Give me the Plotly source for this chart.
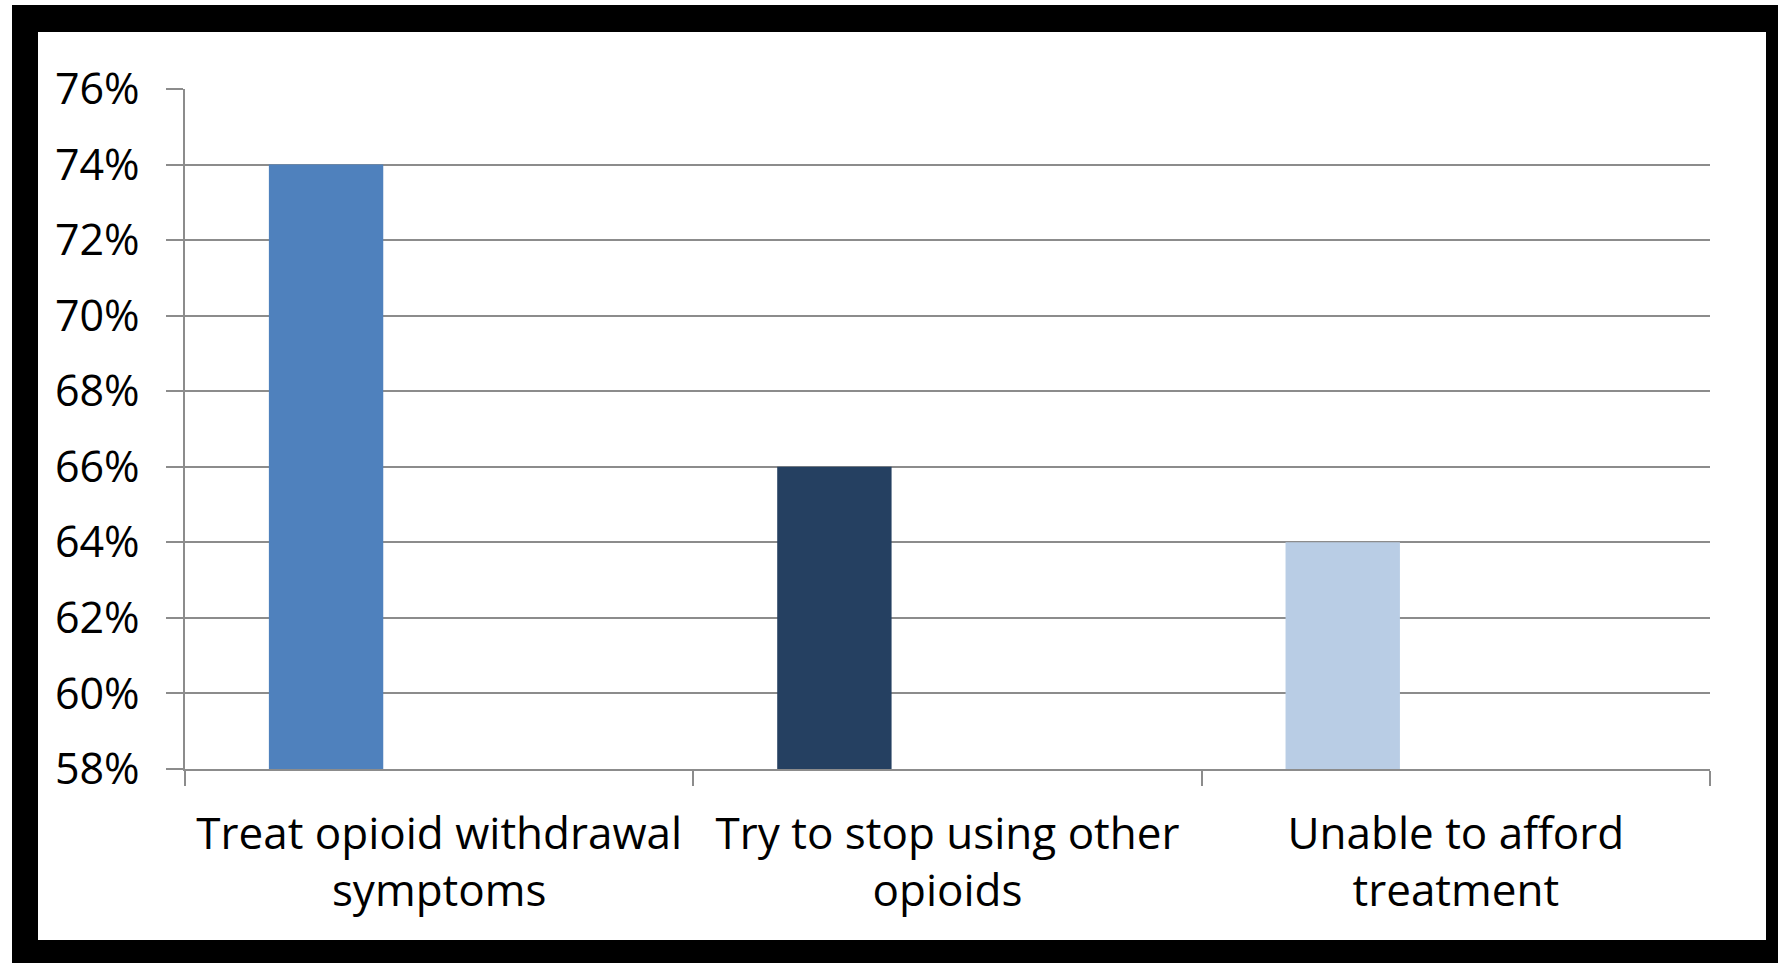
import plotly.graph_objects as go

# Survey reasons and their shares
categories = ["Treat opioid withdrawal<br>symptoms",
              "Try to stop using other<br>opioids",
              "Unable to afford<br>treatment"]
values = [0.74, 0.66, 0.64]
colors = ["#4F81BD", "#254061", "#B9CDE5"]
y_ticks = [0.58, 0.60, 0.62, 0.64, 0.66, 0.68, 0.70, 0.72, 0.74, 0.76]

W, H = 1778, 963
L, R, T, B = 185, 68, 89, 194
PW, PH = W - L - R, H - T - B


def px_x(x):
    return (x - L) / PW


def px_y(y):
    return (H - B - y) / PH


fig = go.Figure()
# bars sit in the left slot of each category band
fig.add_trace(go.Bar(
    x=categories, y=values,
    marker=dict(color=colors, line=dict(width=0)),
    width=0.225, offset=-0.335,
    showlegend=False, hoverinfo="skip",
))

# black frame around the chart
fig.add_shape(type="rect", xref="paper", yref="paper", layer="below",
              x0=px_x(12), x1=px_x(1800), y0=px_y(990), y1=px_y(5),
              fillcolor="black", line=dict(width=0))
fig.add_shape(type="rect", xref="paper", yref="paper", layer="below",
              x0=px_x(38), x1=px_x(1766), y0=px_y(940), y1=px_y(32),
              fillcolor="white", line=dict(width=0))

axis_grey = "#8C8C8C"
fig.update_layout(
    width=W, height=H,
    margin=dict(l=L, r=R, t=T, b=B, pad=0),
    paper_bgcolor="white",
    plot_bgcolor="rgba(0,0,0,0)",
    font=dict(family="Open Sans", size=43, color="black"),
    xaxis=dict(
        showline=True, linecolor=axis_grey, linewidth=1.5,
        ticks="outside", ticklen=15, tickcolor=axis_grey, tickwidth=1.5,
        tickson="boundaries", showgrid=False,
        tickfont=dict(family="Open Sans", size=44, color="black"),
        ticklabelstandoff=25,
    ),
    yaxis=dict(
        range=[0.58, 0.76], tickvals=y_ticks, tickformat=".0%",
        showline=True, linecolor=axis_grey, linewidth=1.5,
        ticks="outside", ticklen=17, tickcolor=axis_grey, tickwidth=1.5,
        showgrid=True, gridcolor=axis_grey, gridwidth=1.5, zeroline=False,
        tickfont=dict(family="Open Sans", size=43, color="black"),
        ticklabelstandoff=18,
    ),
)

fig.write_html("out.html")
